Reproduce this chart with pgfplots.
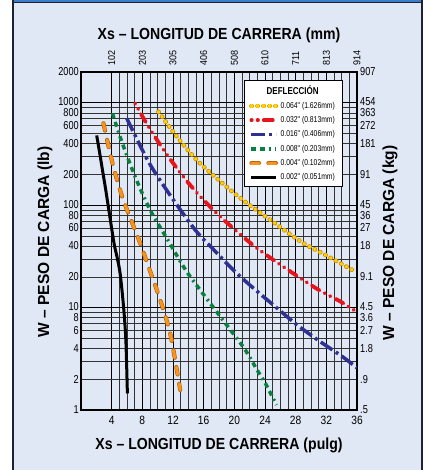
\documentclass[border=0pt]{standalone}
\usepackage{fontspec}
\setmainfont{Liberation Sans}
\newfontfamily\tickf{Liberation Sans}[FakeStretch=0.8]
\newfontfamily\botf{Liberation Sans}[FakeStretch=0.85]
\newfontfamily\topf{Liberation Sans}[FakeStretch=0.9]
\newfontfamily\labf{Liberation Sans}[FakeStretch=0.88]
\newfontfamily\ylabf{Liberation Sans}[FakeStretch=0.97]
\newfontfamily\legf{Liberation Sans}[FakeStretch=0.8]
\usepackage{pgfplots}
\pgfplotsset{compat=1.18}
\definecolor{bgblue}{HTML}{E0E8F5}
\definecolor{topblue}{HTML}{3D7CC9}
\definecolor{framec}{HTML}{1C2233}
\definecolor{yfill}{HTML}{FFD400}
\definecolor{yedge}{HTML}{D08C00}
\definecolor{cred}{HTML}{E8141C}
\definecolor{cblue}{HTML}{2E3192}
\definecolor{cgreen}{HTML}{0A8040}
\definecolor{corange}{HTML}{F7941D}
\definecolor{oedge}{HTML}{B8620A}
\pgfplotsset{
  c064/.style={draw=yedge, line width=4.6pt, line cap=round, dash pattern=on 0.4pt off 5.6pt,
     postaction={draw=yfill, line width=3.4pt, line cap=round, dash pattern=on 0.4pt off 5.6pt}},
  c032/.style={draw=cred, line width=3.8pt, line cap=round,
     dash pattern=on 0.4pt off 5.8pt on 0.4pt off 5.8pt on 9pt off 5.8pt},
  c016/.style={draw=cblue, line width=3.5pt, line cap=butt,
     dash pattern=on 14pt off 4pt on 3pt off 4pt},
  c008/.style={draw=cgreen, line width=3.5pt, line cap=butt,
     dash pattern=on 5pt off 4pt on 5pt off 4pt on 2pt off 4pt},
  c004/.style={draw=oedge, line width=4.2pt, line cap=round, dash pattern=on 7.5pt off 9.5pt,
     postaction={draw=corange, line width=3pt, line cap=round, dash pattern=on 7.5pt off 9.5pt}},
  c002/.style={draw=black, line width=3pt},
}
\begin{document}
\begin{tikzpicture}
\useasboundingbox (0pt,0pt) rectangle (427pt,470pt);
\fill[white] (0pt,0pt) rectangle (427pt,470pt);
\fill[bgblue] (13pt,0pt) rectangle (422pt,470pt);
\fill[topblue] (13pt,467pt) rectangle (422pt,470pt);
\draw[framec, line width=1pt] (13pt,467pt) -- (422pt,467pt);
\draw[framec, line width=1.4pt] (13pt,0pt) -- (13pt,470pt);
\draw[framec, line width=1.4pt] (422pt,0pt) -- (422pt,470pt);

\begin{axis}[
  at={(81pt,60pt)}, anchor=south west,
  scale only axis, width=276pt, height=338pt,
  xmin=0, xmax=36, ymin=1, ymax=2000, ymode=log,
  axis line style={line width=1.6pt},
  xtick={4,8,...,36}, xticklabels={4,8,12,16,20,24,28,32,36},
  minor x tick num=3,
  ytick={1,10,100,1000},
  yticklabels={1,\raisebox{1.8pt}{10},\raisebox{1.8pt}{100},\raisebox{1.8pt}{1000}},
  minor ytick={2,3,4,5,6,7,8,9,20,30,40,50,60,70,80,90,200,300,400,500,600,700,800,900},
  extra y ticks={2,4,6,8,20,40,60,80,200,400,600,800,2000},
  extra y tick labels={2,4,6,\raisebox{-1.5pt}{8},20,40,60,\raisebox{-1.5pt}{80},200,400,600,\raisebox{-1.5pt}{800},2000},
  extra y tick style={grid=none},
  grid=both,
  major grid style={black, line width=0.9pt},
  minor grid style={black!80, line width=0.45pt},
  tick style={draw=none},
  major tick length=0pt, minor tick length=0pt,
  yticklabel style={font=\tickf\fontsize{11.5}{11.5}\selectfont, inner sep=2pt},
  xticklabel style={font=\botf\fontsize{12}{12}\selectfont, yshift=-3pt},
  no marks,
  legend style={at={(0.946,0.976)}, anchor=north east, draw=black, fill=white,
     font=\legf\fontsize{8.5}{9}\selectfont, inner xsep=5pt, inner ysep=3pt,
     row sep=2.6pt, cells={anchor=west}},
  legend image code/.code={\draw[#1] (0pt,0pt) -- (25pt,0pt);},
]
\addlegendimage{empty legend}
\addlegendentry{\hspace*{-14pt}{\fontsize{10}{10}\selectfont\bfseries DEFLECCIÓN}}

\addplot[c064, smooth] coordinates {
 (10.1,819) (12.5,467) (15.1,276) (17.7,183) (20.8,117) (24.7,71.7)
 (28.7,44) (31.9,32.6) (35.4,23.3)};
\addlegendentry{0.064" (1.626mm)}

\addplot[c032, smooth] coordinates {
 (7.06,989) (8.8,584) (11.4,298) (14.25,157) (17.7,83.4) (21.9,44)
 (24.5,31.4) (28.0,20.8) (31.0,14.9) (33.9,11.4) (35.6,9.46)};
\addlegendentry{0.032" (0.813mm)}

\addplot[c016, smooth] coordinates {
 (5.97,706) (8.8,266) (11.6,126) (14.9,57.3) (17.2,37.5) (20.1,22.4)
 (22.75,14.9) (25.6,9.84) (28.2,6.76) (31.2,4.65) (34.1,3.32) (36,2.58)};
\addlegendentry{0.016" (0.406mm)}

\addplot[c008, smooth] coordinates {
 (4.1,789) (5.32,417) (7.06,190) (9.02,89.8) (11.4,44.8) (13.8,22.4)
 (17.6,9.3) (19.5,6.04) (21.44,3.85) (22.97,2.46) (24.05,1.82) (25.5,1.12)};
\addlegendentry{0.008" (0.203mm)}

\addplot[c004, smooth] coordinates {
 (2.92,631) (4.22,238) (5.53,112) (7.6,45) (8.8,25.1) (10.33,11.9)
 (11.63,5.6) (12.5,2.46) (12.94,1.57)};
\addlegendentry{0.004" (0.102mm)}

\addplot[c002, smooth] coordinates {
 (2.05,480) (3.2,145) (4.25,45) (4.67,32) (5.1,21.6) (5.55,10.2) (5.85,4.8) (6.05,1.45)};
\addlegendentry{0.002" (0.051mm)}
\end{axis}

\begin{axis}[
  at={(81pt,60pt)}, anchor=south west,
  scale only axis, width=276pt, height=338pt,
  xmin=0, xmax=36, ymin=1, ymax=2000, ymode=log,
  axis x line*=top, axis y line*=right,
  axis line style={draw=none},
  tick style={draw=none}, major tick length=0pt, minor tick length=0pt,
  minor ytick={}, minor xtick={},
  xtick={4,8,...,36}, xticklabels={102,203,305,406,508,610,711,813,914},
  xticklabel style={font=\topf\fontsize{10}{10}\selectfont, rotate=90, anchor=west, inner xsep=6pt},
  ytick={1,2,4,6,8,10,20,40,60,80,100,200,400,600,800,1000,2000},
  yticklabels={.5,.9,1.8,2.7,\raisebox{-1.5pt}{3.6},\raisebox{1.8pt}{4.5},9.1,18,27,\raisebox{-1.5pt}{36},\raisebox{1.8pt}{45},91,181,272,\raisebox{-1.5pt}{363},\raisebox{1.8pt}{454},907},
  yticklabel style={font=\tickf\fontsize{11.5}{11.5}\selectfont, anchor=west, inner sep=3pt},
]
\end{axis}

\node[font=\labf\bfseries\fontsize{16}{16}\selectfont] at (219pt,435pt) {Xs – LONGITUD DE CARRERA (mm)};
\node[font=\labf\bfseries\fontsize{16}{16}\selectfont] at (219pt,25pt) {Xs – LONGITUD DE CARRERA (pulg)};
\node[font=\ylabf\bfseries\fontsize{16}{16}\selectfont, rotate=90] at (45pt,228pt) {W – PESO DE CARGA (lb)};
\node[font=\ylabf\bfseries\fontsize{16}{16}\selectfont, rotate=90] at (390pt,227pt) {W – PESO DE CARGA (kg)};
\end{tikzpicture}
\end{document}
